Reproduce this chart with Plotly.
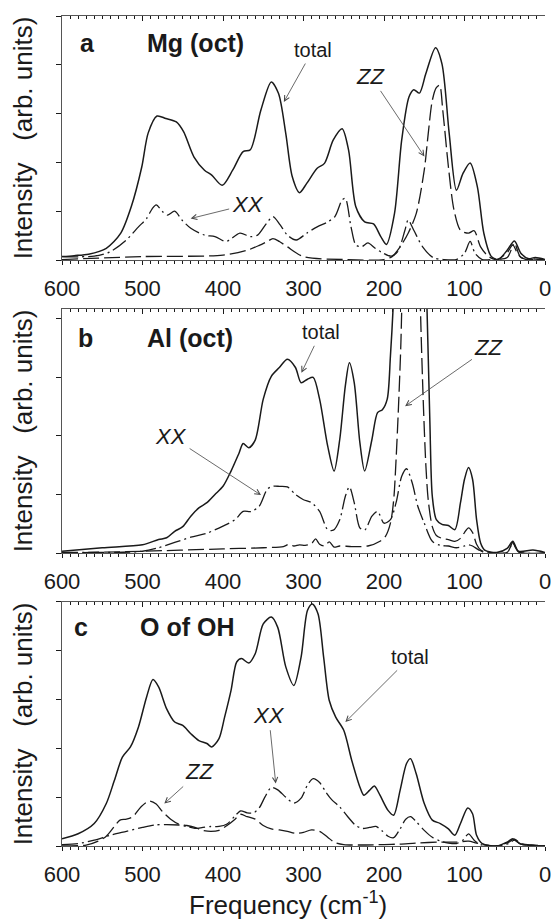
import plotly.graph_objects as go

# ---------------- data ----------------
# Panel a : Mg (oct)
a_total_f = [600,585,567,545,527,514,501,493,482,471,458,449,436,423,414,401,388,375,366,353,340,331,322,314,305,296,283,274,263,252,244,235,224,213,204,197,187,178,169,163,156,148,136,128,119,110,102,93,84,76,67,58,47,38,30,21,12,0]
a_total_i = [0.07,0.09,0.12,0.24,0.55,1.09,1.9,2.6,2.95,2.9,2.83,2.63,2.11,1.84,1.74,1.53,1.84,2.22,2.26,3.07,3.65,3.41,2.59,1.71,1.38,1.57,1.88,1.98,2.46,2.69,2.25,1.09,0.78,0.74,0.48,0.32,0.95,2.46,3.34,3.49,3.42,3.82,4.35,4.02,2.59,1.43,1.77,1.99,1.50,0.55,0.08,0.01,0.2,0.39,0.14,0.03,0.05,0.01]
a_xx_f = [600,560,540,520,505,495,488,483,475,469,460,451,440,423,410,397,392,379,366,357,346,338,329,320,309,296,283,270,261,252,248,241,235,228,220,211,202,191,183,174,170,163,152,139,126,110,100,93,87,78,65,47,38,30,12,0]
a_xx_i = [0.07,0.08,0.17,0.41,0.68,0.85,1.05,1.13,0.99,0.92,1.0,0.82,0.65,0.51,0.48,0.38,0.41,0.55,0.48,0.51,0.75,0.89,0.72,0.51,0.41,0.55,0.68,0.78,0.89,1.23,1.26,0.68,0.31,0.27,0.35,0.24,0.15,0.08,0.17,0.61,0.82,0.61,0.27,0.05,0.01,0.01,0.14,0.38,0.14,0.01,0.01,0.05,0.34,0.05,0.02,0.01]
a_zz_f = [600,500,400,370,355,345,338,330,320,300,250,200,190,180,170,160,150,145,140,135,131,127,120,113,105,95,88,80,70,60,47,40,33,25,0]
a_zz_i = [0.01,0.07,0.1,0.2,0.3,0.38,0.44,0.38,0.27,0.07,0.01,0.01,0.07,0.27,0.55,0.95,1.84,2.6,3.27,3.53,3.58,3.07,1.91,1.02,0.61,0.55,0.6,0.27,0.07,0.01,0.15,0.31,0.1,0.02,0.01]

# Panel b : Al (oct)
b_total_f = [600,550,500,480,470,460,450,440,430,420,410,400,390,380,375,368,360,350,340,330,320,310,303,295,288,280,270,262,255,248,243,237,230,224,215,208,202,196,192,188,182,175,168,160,153,147,143,140,135,128,120,112,105,100,95,90,85,80,75,60,47,40,33,15,0]
b_total_i = [0.03,0.09,0.14,0.23,0.26,0.37,0.45,0.63,0.77,0.86,1.0,1.14,1.4,1.71,1.87,1.8,1.93,2.63,3.02,3.17,3.31,3.17,2.91,2.97,3.0,2.63,1.83,1.4,1.94,2.86,3.25,2.91,1.89,1.4,1.94,2.4,2.45,2.63,3.37,4.4,7.0,9.0,9.5,9.0,7.0,4.4,2.23,0.97,0.57,0.49,0.47,0.4,0.86,1.26,1.46,1.26,0.57,0.17,0.05,0.01,0.08,0.2,0.03,0.05,0.01]
b_xx_f = [600,500,480,460,440,420,400,385,375,365,355,345,338,330,320,310,300,290,280,270,263,255,248,243,237,230,224,215,208,200,192,185,178,172,165,158,150,140,130,120,110,100,95,90,82,75,47,40,33,0]
b_xx_i = [0.01,0.03,0.09,0.18,0.27,0.34,0.46,0.57,0.71,0.71,0.8,1.09,1.14,1.14,1.13,1.0,0.91,0.86,0.71,0.4,0.39,0.57,0.97,1.13,0.86,0.43,0.39,0.63,0.71,0.51,0.57,0.86,1.31,1.44,1.2,0.8,0.51,0.2,0.13,0.12,0.09,0.12,0.14,0.12,0.05,0.01,0.01,0.17,0.02,0.0]
b_zz_f = [600,500,400,350,325,318,312,305,298,290,285,280,274,268,262,255,240,220,205,198,192,188,185,182,179,176,172,166,160,157,154,151,148,145,140,135,128,120,112,105,100,95,90,85,80,70,47,40,33,0]
b_zz_i = [0.0,0.03,0.07,0.09,0.11,0.15,0.12,0.14,0.13,0.16,0.24,0.15,0.12,0.19,0.1,0.12,0.11,0.12,0.2,0.29,0.51,0.9,1.6,2.5,3.6,5.5,8.0,9.5,8.0,5.5,3.8,2.5,1.5,0.9,0.45,0.3,0.25,0.23,0.2,0.25,0.35,0.43,0.35,0.15,0.05,0.01,0.01,0.18,0.02,0.0]

# Panel c : O of OH
c_total_f = [600,580,560,545,535,525,515,505,495,487,480,470,460,450,440,430,420,414,405,398,390,383,377,368,360,350,340,332,322,312,303,295,289,282,275,268,260,250,240,230,225,218,212,205,195,188,180,172,167,160,150,140,130,120,112,105,96,90,85,78,60,47,40,30,0]
c_total_i = [0.15,0.25,0.46,0.87,1.34,1.82,2.03,2.44,3.05,3.41,3.26,2.81,2.54,2.47,2.3,2.16,2.1,2.03,2.2,2.64,3.19,3.77,3.84,3.75,3.94,4.55,4.69,4.48,3.67,3.29,3.87,4.83,4.96,4.76,3.87,2.98,2.64,2.37,1.75,1.21,1.04,1.14,1.23,1.04,0.73,0.63,1.14,1.69,1.79,1.48,0.87,0.53,0.46,0.35,0.22,0.46,0.78,0.66,0.22,0.05,0.0,0.08,0.15,0.04,0.0]
c_xx_f = [600,580,560,540,520,500,485,470,455,445,435,425,415,405,395,385,378,370,362,355,348,340,332,322,312,303,295,288,280,272,265,255,245,235,227,218,210,203,195,188,180,173,167,160,150,140,130,120,110,102,95,88,80,60,45,38,30,0]
c_xx_i = [0.03,0.05,0.12,0.22,0.3,0.38,0.43,0.44,0.43,0.4,0.36,0.38,0.4,0.4,0.45,0.62,0.72,0.68,0.68,0.78,1.0,1.2,1.15,1.0,0.88,0.98,1.25,1.38,1.3,1.1,0.95,0.8,0.6,0.42,0.36,0.38,0.4,0.32,0.2,0.17,0.35,0.55,0.6,0.5,0.32,0.18,0.1,0.06,0.05,0.12,0.25,0.12,0.03,0.0,0.05,0.12,0.04,0.0]
c_zz_f = [600,570,555,545,535,528,520,512,502,492,483,475,465,455,445,435,425,415,405,395,385,378,370,360,350,340,330,320,310,300,290,280,270,262,250,230,200,180,160,130,110,95,85,70,60,45,38,30,15,0]
c_zz_i = [0.0,0.02,0.1,0.2,0.4,0.53,0.55,0.6,0.8,0.92,0.86,0.7,0.55,0.45,0.42,0.38,0.32,0.3,0.32,0.42,0.55,0.65,0.6,0.55,0.42,0.35,0.33,0.3,0.26,0.28,0.33,0.3,0.18,0.08,0.03,0.02,0.03,0.04,0.06,0.08,0.08,0.1,0.06,0.01,0.0,0.08,0.14,0.05,0.02,0.0]

x_ticks = [600, 500, 400, 300, 200, 100, 0]
x_tick_text = ["600", "500", "400", "300", "200", "100", "0"]

panel_letters = ["a", "b", "c"]
panel_names = ["Mg (oct)", "Al (oct)", "O of OH"]
y_tops = [5.0, 4.17, 5.0]
y_tickvals = [[0, 1, 2, 3, 4, 5], [0, 1, 2, 3, 4], [0, 1, 2, 3, 4, 5]]

# ---------------- styling ----------------
FONT = "Liberation Sans, Arial, Helvetica, sans-serif"
INK = "#1a1a1a"
AX = "#555555"
domains = [[0.706, 1.0], [0.353, 0.647], [0.0, 0.294]]

series = [
    [(a_total_f, a_total_i), (a_xx_f, a_xx_i), (a_zz_f, a_zz_i)],
    [(b_total_f, b_total_i), (b_xx_f, b_xx_i), (b_zz_f, b_zz_i)],
    [(c_total_f, c_total_i), (c_xx_f, c_xx_i), (c_zz_f, c_zz_i)],
]
styles = [
    dict(color=INK, width=1.5, dash="solid"),
    dict(color=INK, width=1.3, dash="16px,4px,2px,4px"),
    dict(color=INK, width=1.3, dash="16px,5px"),
]
names = ["total", "XX", "ZZ"]

fig = go.Figure()
for p in range(3):
    xs = "x" if p == 0 else f"x{p+1}"
    ys = "y" if p == 0 else f"y{p+1}"
    for s in range(3):
        f, v = series[p][s]
        fig.add_trace(go.Scatter(
            x=f, y=v, mode="lines", name=names[s], showlegend=False,
            line=dict(shape="spline", smoothing=0.8, **styles[s]),
            xaxis=xs, yaxis=ys, hoverinfo="skip"))
    # invisible carrier for the top (inside-ticks) axis
    fig.add_trace(go.Scatter(x=[], y=[], xaxis=f"x{p+4}", yaxis=ys,
                             showlegend=False, hoverinfo="skip"))

layout = dict(
    width=558, height=920,
    margin=dict(l=62, r=7, t=16, b=74),
    paper_bgcolor="white", plot_bgcolor="white",
    font=dict(family=FONT, color=INK),
    showlegend=False,
)

for p in range(3):
    xk = "xaxis" if p == 0 else f"xaxis{p+1}"
    yk = "yaxis" if p == 0 else f"yaxis{p+1}"
    ya = "y" if p == 0 else f"y{p+1}"
    xa = "x" if p == 0 else f"x{p+1}"
    layout[xk] = dict(
        domain=[0, 1], anchor=ya, range=[600, 0], autorange=False,
        tickmode="array", tickvals=x_ticks, ticktext=x_tick_text,
        ticks="outside", ticklen=4, tickwidth=1, tickcolor=INK,
        minor=dict(ticks="outside", ticklen=2.5, dtick=10, tick0=0, tickcolor=INK, showgrid=False),
        showline=True, linecolor=AX, linewidth=1, mirror=False,
        showgrid=False, zeroline=False,
        tickfont=dict(family=FONT, size=22, color=INK), ticklabelstandoff=5,
    )
    layout[f"xaxis{p+4}"] = dict(
        overlaying=xa, side="top", anchor=ya, range=[600, 0], autorange=False,
        tickmode="array", tickvals=x_ticks, showticklabels=False,
        ticks="inside", ticklen=5, tickwidth=1, tickcolor=INK,
        minor=dict(ticks="inside", ticklen=3, dtick=10, tick0=0, tickcolor=INK, showgrid=False),
        showline=True, linecolor=AX, linewidth=1,
        showgrid=False, zeroline=False,
    )
    layout[yk] = dict(
        domain=domains[p], anchor=xa, range=[0, y_tops[p]], autorange=False,
        tickmode="array", tickvals=y_tickvals[p], showticklabels=False,
        ticks="outside", ticklen=5, tickwidth=1, tickcolor=INK,
        showline=True, linecolor=AX, linewidth=1, mirror=False,
        showgrid=False, zeroline=False,
    )

fig.update_layout(**layout)

ann = []
# y-axis titles
for p in range(3):
    ann.append(dict(text="Intensity\u00a0\u00a0 (arb. units)", xref="paper", yref="paper",
                    x=-0.080, y=sum(domains[p]) / 2, xanchor="center", yanchor="middle",
                    textangle=-90, showarrow=False,
                    font=dict(family=FONT, size=26, color=INK)))
# x-axis title
ann.append(dict(text="Frequency (cm<sup>-1</sup>)", xref="paper", yref="paper",
                x=0.467, y=-0.0687, xanchor="center", yanchor="middle", showarrow=False,
                font=dict(family=FONT, size=26, color=INK)))

# panel headings: (letter x, name x, y)
heads = [(580, 497, 4.44), (582, 497, 3.68), (588, 506, 4.49)]
for p in range(3):
    xr = "x" if p == 0 else f"x{p+1}"
    yr = "y" if p == 0 else f"y{p+1}"
    lx, nx, hy = heads[p]
    ann.append(dict(text=f"<b>{panel_letters[p]}</b>", xref=xr, yref=yr, x=lx, y=hy,
                    xanchor="left", yanchor="middle", showarrow=False,
                    font=dict(family=FONT, size=25, color=INK)))
    ann.append(dict(text=f"<b>{panel_names[p]}</b>", xref=xr, yref=yr, x=nx, y=hy,
                    xanchor="left", yanchor="middle", showarrow=False,
                    font=dict(family=FONT, size=25, color=INK)))

# curve labels with arrows: (panel, text, italic, label x, label y, head x, head y)
labels = [
    (0, "total", False, 288.4, 4.30, 324.4, 3.24),
    (0, "ZZ", True, 216.6, 3.77, 149.8, 2.12),
    (0, "XX", True, 369.4, 1.14, 440.2, 0.85),
    (1, "total", False, 278.6, 3.77, 302.6, 3.08),
    (1, "ZZ", True, 69.9, 3.51, 173.8, 2.51),
    (1, "XX", True, 464.2, 1.99, 352.8, 0.99),
    (2, "total", False, 167.2, 3.87, 248.0, 2.54),
    (2, "XX", True, 343.2, 2.68, 334.5, 1.28),
    (2, "ZZ", True, 429.3, 1.52, 472.9, 0.87),
]
for (p, t, it, lx, ly, hx, hy) in labels:
    xr = "x" if p == 0 else f"x{p+1}"
    yr = "y" if p == 0 else f"y{p+1}"
    txt = f"<i>{t}</i>" if it else t
    ann.append(dict(text=txt, xref=xr, yref=yr, x=hx, y=hy, axref=xr, ayref=yr, ax=lx, ay=ly,
                    xanchor="center", yanchor="middle",
                    font=dict(family=FONT, size=22 if it else 20, color=INK),
                    showarrow=True, arrowhead=5, arrowsize=1.3, arrowwidth=0.8,
                    arrowcolor="#444444", standoff=0, startstandoff=1))

fig.update_layout(annotations=ann)
fig.write_html("out.html")
